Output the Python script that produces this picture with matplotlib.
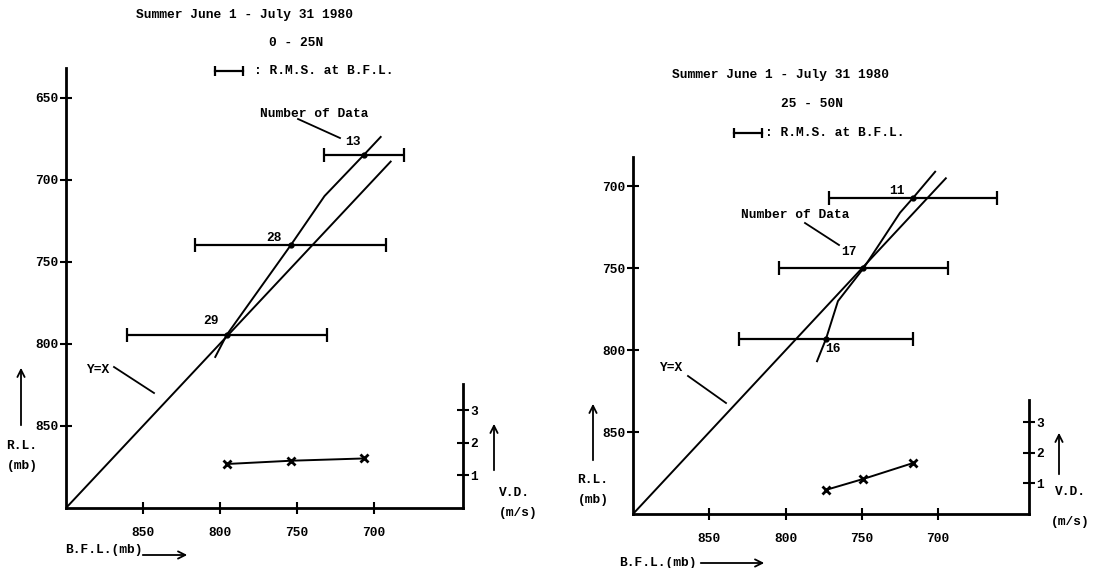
import matplotlib.pyplot as plt
from matplotlib.lines import Line2D
from matplotlib.patches import FancyArrowPatch

plt.rcParams['font.family'] = ['Liberation Mono', 'DejaVu Sans Mono']
plt.rcParams['font.weight'] = 'bold'
plt.rcParams['font.size'] = 9.3

W, H = 1120, 568

# 0 - 25N
left_bfl = [795.5, 754, 706.5]
left_rl = [794.5, 740, 685]
left_rms = [65, 62, 26]
left_n = [29, 28, 13]
left_vd = [1.35, 1.45, 1.52]
left_curve_bfl = [803, 795.5, 754, 732, 706.5, 695.5]
left_curve_rl = [808, 794.5, 740, 710, 685, 674]

# 25 - 50N
right_bfl = [773.5, 749, 716.5]
right_rl = [793, 750, 707]
right_rms = [57, 55.5, 55]
right_n = [16, 17, 11]
right_vd = [0.79, 1.15, 1.67]
right_curve_bfl = [779.4, 773.5, 765.7, 749, 725, 716.5, 702]
right_curve_rl = [806.7, 793, 770, 750, 716, 707, 691]

bfl_ticks = [850, 800, 750, 700]
vd_ticks = [1, 2, 3]

fig = plt.figure(figsize=(W / 100, H / 100), dpi=100)


def fp(x, y):
    # pixel position measured from the top-left corner -> figure pixels
    return (x, H - y)


def ftext(x, y, s, **kw):
    kw.setdefault('ha', 'center')
    kw.setdefault('va', 'center')
    fig.text(x / W, 1 - y / H, s, **kw)


def arrow(x0, y0, x1, y1):
    fig.add_artist(FancyArrowPatch(
        posA=fp(x0, y0), posB=fp(x1, y1), transform=None,
        arrowstyle='->', mutation_scale=13, lw=1.3, color='k'))


def seg(x0, y0, x1, y1, **kw):
    fig.add_artist(Line2D([x0 / W, x1 / W], [1 - y0 / H, 1 - y1 / H],
                          transform=fig.transFigure, color='k', lw=1.3, **kw))


def rms_key(x0, x1, y):
    fig.add_artist(Line2D([x0 / W, x1 / W], [1 - y / H] * 2, transform=fig.transFigure,
                          color='k', lw=1.6, marker='|', ms=7, mew=1.6))


def panel(box, xlim, ylim, yticks, vd_lim, vd_top, bfl, rl, rms, n, vd,
          cbfl, crl, yx_end, offsets):
    x0, y0, x1, y1 = box
    ax = fig.add_axes([x0 / W, 1 - y1 / H, (x1 - x0) / W, (y1 - y0) / H])
    ax.set_xlim(*xlim)
    ax.set_ylim(*ylim)
    for s in ['top', 'right']:
        ax.spines[s].set_visible(False)
    for s in ['left', 'bottom']:
        ax.spines[s].set_linewidth(2)
    ax.set_xticks(bfl_ticks)
    ax.set_yticks(yticks)
    ax.tick_params(axis='both', direction='inout', length=9, width=1.5)
    ax.tick_params(axis='x', pad=9)
    ax.tick_params(axis='y', pad=1)
    ax.patch.set_visible(False)

    # Y=X reference line and the fitted curve
    ax.plot([900, yx_end], [900, yx_end], color='k', lw=1.4)
    ax.plot(cbfl, crl, color='k', lw=1.4)
    ax.errorbar(bfl, rl, xerr=rms, fmt='o', color='k', ms=3.5,
                capsize=5, capthick=1.6, elinewidth=1.6)
    for xv, yv, k, off in zip(bfl, rl, n, offsets):
        ax.annotate(str(k), (xv, yv), xytext=off, textcoords='offset pixels',
                    ha='center', va='center')

    # vertical difference on its own scale
    ax2 = ax.twinx()
    ax2.set_ylim(0, vd_lim)
    for s in ['top', 'left', 'bottom']:
        ax2.spines[s].set_visible(False)
    ax2.spines['right'].set_linewidth(2)
    ax2.spines['right'].set_bounds(0, vd_top)
    ax2.set_yticks(vd_ticks)
    ax2.tick_params(axis='y', direction='inout', length=9, width=1.5, pad=1)
    ax2.plot(bfl, vd, color='k', lw=1.4, marker='x', ms=6, mew=2)
    return ax


panel((66, 68, 463, 508), (900, 642), (900, 632), [650, 700, 750, 800, 850],
      13.5, 3.8, left_bfl, left_rl, left_rms, left_n, left_vd,
      left_curve_bfl, left_curve_rl, 689,
      [(-16, 14), (-17, 7), (-11, 13)])

panel((633, 157, 1029, 514), (900, 640.5), (900, 682), [700, 750, 800, 850],
      11.7, 3.75, right_bfl, right_rl, right_rms, right_n, right_vd,
      right_curve_bfl, right_curve_rl, 695,
      [(7, -10), (-14, 16), (-16, 7)])

# headings
ftext(245, 15, 'Summer June 1 - July 31 1980')
ftext(296, 43, '0 - 25N')
ftext(324, 71, ': R.M.S. at B.F.L.')
rms_key(215, 243, 71)

ftext(781, 75, 'Summer June 1 - July 31 1980')
ftext(812, 104, '25 - 50N')
ftext(835, 133, ': R.M.S. at B.F.L.')
rms_key(734, 762, 133)

# left panel notes
ftext(314, 114, 'Number of Data')
seg(298, 119, 340, 138)
ftext(98, 370, 'Y=X')
seg(114, 367, 154, 393)
arrow(21, 428, 21, 365)
ftext(22, 446, 'R.L.')
ftext(22, 466, '(mb)')
ftext(104, 550, 'B.F.L.(mb)')
arrow(140, 555, 190, 555)
arrow(494, 473, 494, 421)
ftext(514, 493, 'V.D.')
ftext(518, 513, '(m/s)')

# right panel notes
ftext(795, 215, 'Number of Data')
seg(805, 223, 839, 245)
ftext(671, 368, 'Y=X')
seg(688, 376, 726, 403)
arrow(593, 463, 593, 401)
ftext(593, 480, 'R.L.')
ftext(593, 500, '(mb)')
ftext(658, 563, 'B.F.L.(mb)')
arrow(698, 563, 767, 563)
arrow(1059, 477, 1059, 430)
ftext(1070, 492, 'V.D.')
ftext(1070, 522, '(m/s)')

fig.savefig('out.png', dpi=100)
